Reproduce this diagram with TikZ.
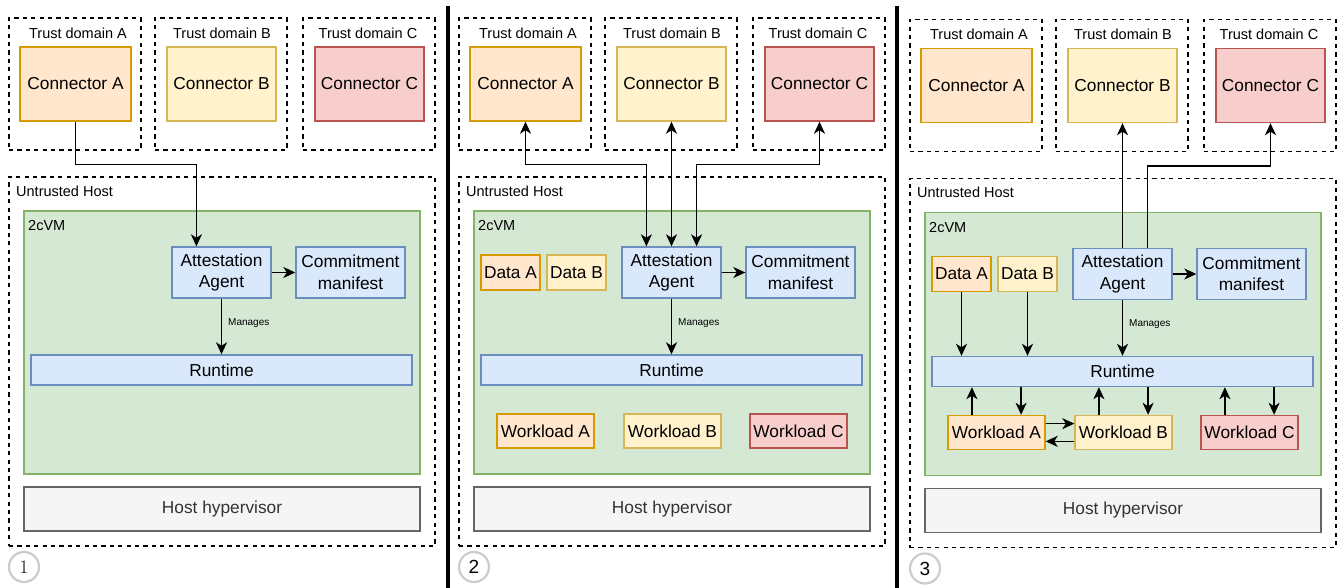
\documentclass[tikz,border=0pt]{standalone}
\usepackage{fontspec}
\newfontfamily\arial{Liberation Sans}
\usetikzlibrary{arrows.meta,calc}
\definecolor{orF}{HTML}{FFE6CC}\definecolor{orD}{HTML}{D79B00}
\definecolor{yeF}{HTML}{FFF2CC}\definecolor{yeD}{HTML}{D6B656}
\definecolor{reF}{HTML}{F8CECC}\definecolor{reD}{HTML}{B85450}
\definecolor{blF}{HTML}{DAE8FC}\definecolor{blD}{HTML}{6C8EBF}
\definecolor{grF}{HTML}{D5E8D4}\definecolor{grD}{HTML}{82B366}
\definecolor{gyF}{HTML}{F5F5F5}\definecolor{gyD}{HTML}{666666}
\definecolor{gyT}{HTML}{333333}
\definecolor{circ}{HTML}{CCCCCC}
\tikzset{
  nbox/.style={draw, rectangle, inner sep=0pt, line width=1.4pt, align=center,
    font=\arial\fontsize{17.3}{21.5}\selectfont},
  orbox/.style={nbox, fill=orF, draw=orD},
  yebox/.style={nbox, fill=yeF, draw=yeD},
  rebox/.style={nbox, fill=reF, draw=reD},
  blbox/.style={nbox, fill=blF, draw=blD},
  gybox/.style={nbox, fill=gyF, draw=gyD, text=gyT},
  dbox/.style={draw, rectangle, inner sep=0pt, line width=1.5pt, dash pattern=on 4.2pt off 4.2pt},
  lbl/.style={font=\arial\fontsize{14.5}{17}\selectfont, inner sep=0pt},
  small/.style={font=\arial\fontsize{10}{12}\selectfont, inner sep=0pt, anchor=west},
  tip/.tip={Stealth[length=12pt,width=11pt,inset=3.5pt]},
  arr/.style={line width=1.6pt, -tip},
  barr/.style={line width=1.6pt, tip-tip},
  sepline/.style={line width=4pt},
  num/.style={circle, draw=circ, line width=2.2pt, minimum size=30pt, inner sep=0pt,
    font=\fontsize{19}{21}\selectfont},
}
\begin{document}
\begin{tikzpicture}[x=1pt,y=-1pt]
\useasboundingbox (0,0) rectangle (1342,588);
% common parts of the three panels
\foreach \p/\dx/\dy in {1/0/0,2/450/0,3/901/1.5}{
\begin{scope}[shift={(\dx,\dy)}]
  \node[dbox, minimum width=132pt, minimum height=132pt] (tda\p) at (75,84) {};
  \node[dbox, minimum width=132pt, minimum height=132pt] (tdb\p) at (221,84) {};
  \node[dbox, minimum width=132pt, minimum height=132pt] (tdc\p) at (369,84) {};
  \node[lbl] (tla\p) at (78,33) {Trust domain A};
  \node[lbl] (tlb\p) at (222,33) {Trust domain B};
  \node[lbl] (tlc\p) at (368,33) {Trust domain C};
  \node[orbox, minimum width=111pt, minimum height=74pt] (ca\p) at (75.5,84) {Connector A};
  \node[yebox, minimum width=109pt, minimum height=74pt] (cb\p) at (221.5,84) {Connector B};
  \node[rebox, minimum width=109pt, minimum height=74pt] (cc\p) at (369.5,84) {Connector C};
  \node[dbox, minimum width=426pt, minimum height=369pt] (uh\p) at (222,361.5) {};
  \node[lbl, anchor=west] (uhl\p) at (16,191) {Untrusted Host};
  \node[nbox, fill=grF, draw=grD, minimum width=396pt, minimum height=263pt] (vm\p) at (222,342.5) {};
  \node[lbl, anchor=west] (vml\p) at (28,226) {2cVM};
  \node[blbox, minimum width=99pt, minimum height=51pt] (aa\p) at (221.5,272.5) {Attestation\\Agent};
  \node[blbox, minimum width=109pt, minimum height=51pt] (cm\p) at (350.5,272.5) {Commitment\\manifest};
  \node[blbox, minimum width=381pt, minimum height=30pt] (rt\p) at (221.5,370) {Runtime};
  \node[gybox, minimum width=396pt, minimum height=44pt] (hh\p) at (222,509) {Host hypervisor};
  \draw[arr] (aa\p) -- (cm\p);
  \draw[arr] (aa\p.south) -- (rt\p.north);
  \node[small] (mg\p) at (228,323) {Manages};
\end{scope}
}
% data and workloads (panels 2 and 3)
\foreach \p/\dx/\dy in {2/450/0,3/901/1.5}{
\begin{scope}[shift={(\dx,\dy)}]
  \node[orbox, minimum width=59pt, minimum height=35pt] (da\p) at (60.5,272.5) {Data A};
  \node[yebox, minimum width=59pt, minimum height=35pt] (db\p) at (126.5,272.5) {Data B};
  \node[orbox, minimum width=97pt, minimum height=34pt] (wa\p) at (95.5,431) {Workload A};
  \node[yebox, minimum width=97pt, minimum height=34pt] (wb\p) at (222.5,431) {Workload B};
  \node[rebox, minimum width=97pt, minimum height=34pt] (wc\p) at (348.5,431) {Workload C};
\end{scope}
}
% separators
\draw[sepline] (447.5,6) -- (447.5,588);
\draw[sepline] (897,6) -- (897,588);
% panel numbers
\node[num] (n1) at (24,567) {1};
\node[num] (n2) at (474,567) {\arial 2};
\node[num] (n3) at (925,568.5) {\arial 3};
% panel 1
\coordinate (q1) at ($(aa1.north west)!.5!(aa1.north)$);
\draw[arr] (ca1.south) -- ++(0,43) -| (q1);
% panel 2
\coordinate (q2a) at ($(aa2.north west)!.5!(aa2.north)$);
\coordinate (q2c) at ($(aa2.north)!.5!(aa2.north east)$);
\draw[barr] (ca2.south) -- ++(0,43) -| (q2a);
\draw[barr] (cb2.south) -- (aa2.north);
\draw[barr] (cc2.south) -- ++(0,43) -| (q2c);
% panel 3
\coordinate (q3c) at ($(aa3.north)!.5!(aa3.north east)$);
\draw[arr] (aa3.north) -- (cb3.south);
\draw[arr] (q3c) -- ++(0,-82) -| (cc3.south);
\draw[arr] (da3.south) -- (da3.south |- rt3.north);
\draw[arr] (db3.south) -- (db3.south |- rt3.north);
\foreach \w in {wa3,wb3,wc3}{
  \coordinate (wu) at ($(\w.north west)!.25!(\w.north east)$);
  \coordinate (wd) at ($(\w.north west)!.75!(\w.north east)$);
  \draw[arr] (wu) -- (wu |- rt3.south);
  \draw[arr] (wd |- rt3.south) -- (wd);
}
\coordinate (ab1) at ($(wa3.north east)!.25!(wa3.south east)$);
\coordinate (ab2) at ($(wa3.north east)!.75!(wa3.south east)$);
\draw[arr] (ab1) -- (ab1 -| wb3.west);
\draw[arr] (ab2 -| wb3.west) -- (ab2);
\end{tikzpicture}
\end{document}
